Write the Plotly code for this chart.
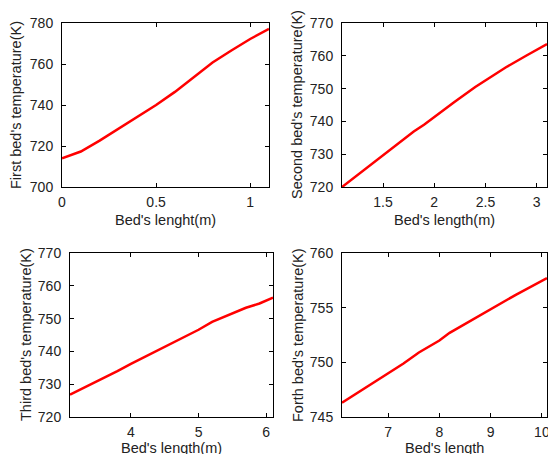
import plotly.graph_objects as go

# Bed 1
x1 = [0, 0.1, 0.2, 0.3, 0.4, 0.5, 0.6, 0.7, 0.8, 0.9, 1.0, 1.1]
y1 = [714.0, 717.3, 722.6, 728.5, 734.2, 740.0, 746.4, 753.5, 760.7, 766.6, 772.2, 777.1]
# Bed 2
x2 = [1.1, 1.3, 1.5, 1.7, 1.8, 1.9, 2.0, 2.2, 2.4, 2.5, 2.7, 2.9, 3.0, 3.1]
y2 = [720.0, 724.8, 729.5, 734.5, 736.9, 739.0, 741.4, 746.0, 750.5, 752.5, 756.5, 760.1, 761.8, 763.6]
# Bed 3
x3 = [3.1, 3.3, 3.6, 3.8, 4.0, 4.2, 4.5, 4.8, 5.0, 5.2, 5.5, 5.7, 5.9, 6.0, 6.1]
y3 = [726.8, 728.8, 731.9, 734.0, 736.2, 738.3, 741.3, 744.6, 746.6, 749.0, 751.7, 753.3, 754.6, 755.6, 756.4]
# Bed 4
x4 = [6.1, 6.5, 7.0, 7.3, 7.6, 8.0, 8.2, 8.5, 9.0, 9.5, 10.1]
y4 = [746.3, 747.5, 749.0, 749.9, 750.9, 752.0, 752.7, 753.5, 754.8, 756.2, 757.7]

xtitles = ["Bed's lenght(m)", "Bed's length(m)", "Bed's length(m)", "Bed's length"]
ytitles = ["First bed's temperature(K)", "Second bed's temperature(K)",
           "Third bed's temperature(K)", "Forth bed's temperature(K)"]

W, H = 548, 454
# pixel boxes: (left, right, top, bottom)
boxes = [(62, 269, 23, 187), (342, 547, 23, 187), (70, 273, 253, 417), (342, 547, 253, 417)]
xranges = [[0, 1.1], [1.1, 3.1], [3.1, 6.1], [6.1, 10.1]]
yranges = [[700, 780], [720, 770], [720, 770], [745, 760]]
xticks = [[0, 0.5, 1], [1.5, 2, 2.5, 3], [4, 5, 6], [7, 8, 9, 10]]
xticktext = [["0", "0.5", "1"], ["1.5", "2", "2.5", "3"], ["4", "5", "6"], ["7", "8", "9", "10"]]
yticks = [[700, 720, 740, 760, 780], [720, 730, 740, 750, 760, 770],
          [720, 730, 740, 750, 760, 770], [745, 750, 755, 760]]
ylabel_x = [16, 297, 26, 298]
xlabel_y = [220, 220, 448, 448]

fig = go.Figure()
data = [(x1, y1), (x2, y2), (x3, y3), (x4, y4)]
font = "Liberation Sans, Arial, sans-serif"
annotations = []
for i, (xs, ys) in enumerate(data):
    n = "" if i == 0 else str(i + 1)
    fig.add_trace(go.Scatter(x=xs, y=ys, mode="lines", line=dict(color="#ff0000", width=2.5),
                             xaxis="x" + n, yaxis="y" + n, showlegend=False))
    l, r, t, b = boxes[i]
    common = dict(showline=True, linecolor="black", linewidth=1, mirror="ticks", ticks="inside",
                  ticklen=4, tickcolor="black", showgrid=False, zeroline=False, automargin=False,
                  ticklabeloverflow="allow",
                  tickfont=dict(family=font, size=14, color="#222"))
    fig.update_layout(**{
        "xaxis" + n: dict(domain=[l / W, r / W], range=xranges[i], anchor="y" + n,
                          tickvals=xticks[i], ticktext=xticktext[i], ticklabelstandoff=2, **common),
        "yaxis" + n: dict(domain=[1 - b / H, 1 - t / H], range=yranges[i], anchor="x" + n,
                          tickvals=yticks[i], ticklabelstandoff=5, **common),
    })
    annotations.append(dict(text=xtitles[i], xref="paper", yref="paper", x=(l + r) / 2 / W,
                            y=1 - xlabel_y[i] / H, showarrow=False, xanchor="center", yanchor="middle",
                            font=dict(family=font, size=14.5, color="#222")))
    annotations.append(dict(text=ytitles[i], xref="paper", yref="paper", x=ylabel_x[i] / W,
                            y=1 - (t + b) / 2 / H, showarrow=False, textangle=-90,
                            xanchor="center", yanchor="middle",
                            font=dict(family=font, size=14.5, color="#222")))

fig.update_layout(width=W, height=H, margin=dict(l=0, r=0, t=0, b=0),
                  paper_bgcolor="white", plot_bgcolor="white", annotations=annotations)
fig.write_html("out.html", config={"displayModeBar": False},
               post_script="document.body.style.margin='0';document.body.style.overflow='hidden';")
